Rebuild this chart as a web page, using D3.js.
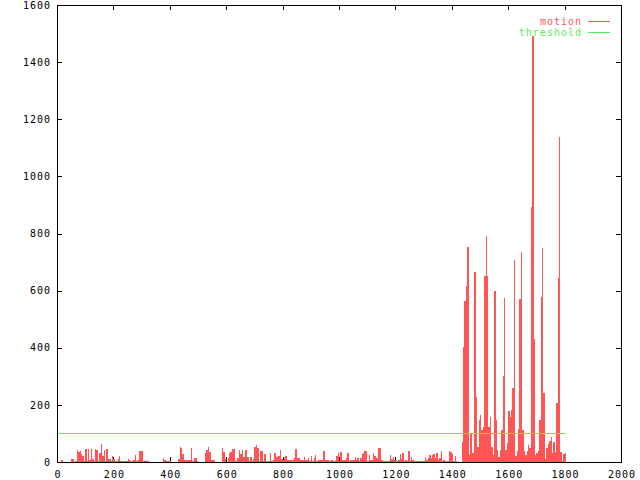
<!DOCTYPE html>
<html>
<head>
<meta charset="utf-8">
<script src="https://cdn.jsdelivr.net/npm/d3@7"></script>
<style>
  html, body { margin: 0; padding: 0; background: #fff; }
  svg { display: block; }
  text { font-family: "DejaVu Sans Mono", "Liberation Mono", monospace; font-size: 10px; letter-spacing: 1px; }
</style>
</head>
<body>
<svg id="chart" width="640" height="480"></svg>
<script>
// ---- data ----
const frameStep = 5;           // one motion sample every 5 frames
const motion = [
  1,1,1,6,1,1,1,1,1,1,
  12,12,1,2,41,35,38,27,20,2,
  45,3,44,8,45,10,2,45,42,2,
  30,62,22,42,3,44,12,10,3,21,
  12,2,2,10,21,3,3,3,3,3,
  10,8,2,2,8,24,2,8,38,38,
  38,2,2,2,4,1,1,1,1,1,
  1,1,1,1,1,13,8,5,5,5,
  4,1,1,1,1,1,9,54,50,27,
  8,8,8,8,8,48,4,13,13,2,
  1,1,1,1,1,30,42,52,36,7,
  7,7,1,1,1,1,1,48,36,12,
  1,13,30,36,44,44,4,4,15,41,
  27,41,17,41,41,17,4,17,4,12,
  52,59,48,4,40,40,4,28,5,5,
  5,30,5,8,30,17,17,21,42,10,
  6,13,21,8,8,8,8,8,13,44,
  13,15,6,8,8,16,8,8,15,5,
  21,5,15,24,5,8,8,8,7,37,
  7,7,8,4,8,8,5,5,22,30,
  5,36,8,8,8,15,33,5,8,8,
  8,19,6,15,4,13,27,30,38,38,
  2,24,6,6,33,21,13,13,50,48,
  6,2,2,2,2,2,24,10,17,6,
  8,4,8,27,10,33,3,8,3,38,
  4,17,8,3,3,3,3,3,3,3,
  3,19,8,13,24,15,24,27,15,33,
  8,15,38,5,8,5,3,3,40,35,
  28,5,21,3,1,1,1,70,404,563,
  617,754,24,100,30,30,666,229,54,147,
  165,112,124,650,792,651,124,159,54,24,
  600,147,42,19,42,112,301,575,42,65,
  180,159,182,258,707,20,40,115,570,736,
  112,40,25,40,60,48,894,1490,430,25,
  30,40,147,579,748,243,12,50,62,75,
  89,30,71,35,208,643,1139,35,5,28,33
];
const thresholdValue = 100;
const thresholdRange = [0, 1800];
const xTicks = [0, 200, 400, 600, 800, 1000, 1200, 1400, 1600, 1800, 2000];
const yTicks = [0, 200, 400, 600, 800, 1000, 1200, 1400, 1600];
const seriesNames = ["motion", "threshold"];
const seriesColors = ["#ff5555", "#55ee55"];

// ---- chart ----
const svg = d3.select("#chart");
const x = d3.scaleLinear().domain([0, 2000]).range([57, 621]);
const y = d3.scaleLinear().domain([0, 1600]).range([462, 5]);

const data = motion.map((v, i) => ({ frame: i * frameStep, value: v }));

// axes (ticks inward, mirrored)
const gx = svg.append("g").attr("transform", `translate(0,${y(0)})`)
  .call(d3.axisBottom(x).tickValues(xTicks).tickSize(-5).tickPadding(9).tickFormat(d3.format("d")));
const gxTop = svg.append("g").attr("transform", `translate(0,${y(1600)})`)
  .call(d3.axisTop(x).tickValues(xTicks).tickSize(-5).tickFormat(""));
const gy = svg.append("g").attr("transform", `translate(${x(0)},0)`)
  .call(d3.axisLeft(y).tickValues(yTicks).tickSize(-5).tickPadding(6).tickFormat(d3.format("d")));
const gyR = svg.append("g").attr("transform", `translate(${x(2000)},0)`)
  .call(d3.axisRight(y).tickValues(yTicks).tickSize(-5).tickFormat(""));
[gx, gxTop, gy, gyR].forEach(g => {
  g.select(".domain").remove();
  g.selectAll("line").attr("stroke", "#000").attr("shape-rendering", "crispEdges");
  g.selectAll("text").attr("fill", "#000")
    .style("font-family", "DejaVu Sans Mono").style("font-size", "10px").style("letter-spacing", "1px");
});
gx.selectAll("text").attr("dx", "0.5px");

// motion bars
svg.append("g").attr("shape-rendering", "crispEdges")
  .selectAll("rect").data(data).join("rect")
  .attr("x", d => x(d.frame))
  .attr("width", d => Math.max(1, x(d.frame + frameStep) - x(d.frame)))
  .attr("y", d => y(d.value))
  .attr("height", d => y(0) - y(d.value))
  .attr("fill", seriesColors[0]);

// threshold line
svg.append("line")
  .attr("x1", x(thresholdRange[0])).attr("x2", x(thresholdRange[1]) + 1)
  .attr("y1", Math.round(y(thresholdValue)) + 0.5).attr("y2", Math.round(y(thresholdValue)) + 0.5)
  .attr("stroke", seriesColors[1]).attr("stroke-width", 1);

// border
svg.append("rect")
  .attr("x", x(0) + 0.5).attr("y", y(1600) + 0.5)
  .attr("width", x(2000) - x(0)).attr("height", y(0) - y(1600))
  .attr("fill", "none").attr("stroke", "#000").attr("stroke-width", 1)
  .attr("shape-rendering", "crispEdges");

// legend
const legend = svg.append("g");
seriesNames.forEach((name, i) => {
  const cy = 21.5 + i * 11;
  legend.append("text")
    .attr("x", 582).attr("y", cy + 3.5)
    .attr("text-anchor", "end")
    .attr("fill", seriesColors[i])
    .text(name);
  legend.append("line")
    .attr("x1", 588).attr("x2", 610)
    .attr("y1", cy).attr("y2", cy)
    .attr("stroke", seriesColors[i]).attr("stroke-width", 1);
});
</script>
</body>
</html>
